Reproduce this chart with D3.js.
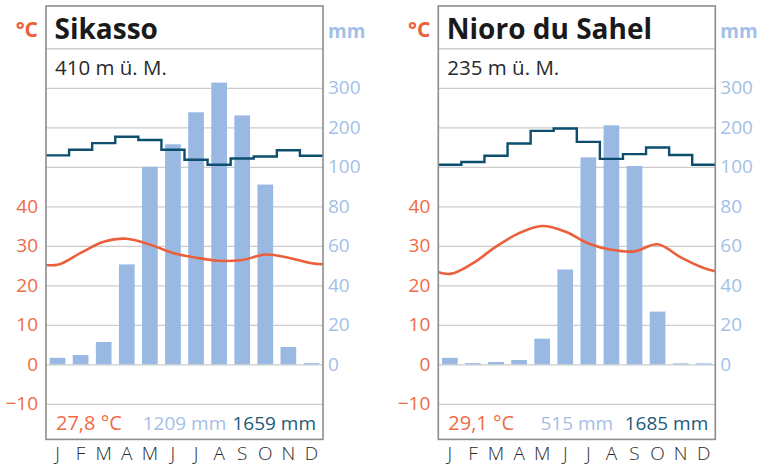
<!DOCTYPE html>
<html>
<head>
<meta charset="utf-8">
<script src="https://cdn.jsdelivr.net/npm/d3@7"></script>
<style>
  body { margin: 0; background: #fff; }
  text { font-family: "Open Sans", sans-serif; }
</style>
</head>
<body>
<svg id="chart" width="761" height="466"></svg>
<script>
//
// Data
//
const months = ['J', 'F', 'M', 'A', 'M', 'J', 'J', 'A', 'S', 'O', 'N', 'D'];
const stations = ['Sikasso', 'Nioro du Sahel'];
const elevations = ['410 m ü. M.', '235 m ü. M.'];
const meanTemps = ['27,8 °C', '29,1 °C'];
const totalPrec = ['1209 mm', '515 mm'];
const totalPet = ['1659 mm', '1685 mm'];

const sikassoTemp = [25.2, 28.2, 31.0, 31.8, 30.3, 28.2, 27.0, 26.2, 26.4, 27.8, 27.0, 25.6];
const sikassoPrec = [3.3, 4.7, 11.3, 50.6, 100, 157, 238, 313, 230, 91, 8.8, 0.6];
const sikassoPet = [129, 143, 160, 176, 168, 143, 118, 105, 121, 126, 142, 128];

const nioroTemp = [22.9, 25.6, 29.8, 33.2, 35.0, 33.6, 30.6, 29.0, 28.6, 30.4, 27.1, 24.4];
const nioroPrec = [3.3, 0.6, 1.2, 2.2, 13, 48, 124, 205, 102, 26.7, 0.5, 0.5];
const nioroPet = [105, 112, 128, 159, 191, 197, 163, 120, 132, 149, 130, 105];

const tempTicks = [-10, 0, 10, 20, 30, 40];
const precTicks = [0, 20, 40, 60, 80, 100, 200, 300];

//
// Configuration
//
const colorTemp = '#ec5f3b';
const colorTempText = '#f06a46';
const colorPrec = '#99b9e3';
const colorPrecText = '#a3bfe8';
const colorPet = '#0d4e6f';
const colorPetText = '#1a5a7a';
const colorGrid = '#cccccc';
const colorFrame = '#8c8c8c';

const frameTop = 6, frameBottom = 439.4, frameW = 277;
const panelX = [46, 438.3];

const svg = d3.select('#chart');

//
// Functions
//
function drawPanel(k, temp, prec, pet) {
  const g = svg.append('g').attr('transform', `translate(${panelX[k]},0)`);

  const yT = d3.scaleLinear().domain([-19, 90.7]).range([frameBottom, frameTop]);
  // precipitation: 20 mm per 10 °C up to 100 mm, then 100 mm per 10 °C
  const yP = d3.scaleLinear().domain([0, 100, 400]).range([yT(0), yT(50), yT(80)]);
  const xm = d3.scaleLinear().domain([0, 12]).range([0, frameW]);
  const xb = d3.scaleBand().domain(d3.range(12)).range([0, frameW])
      .paddingInner(0.32).paddingOuter(0.16);

  const clipId = 'clip' + k;
  g.append('clipPath').attr('id', clipId)
    .append('rect').attr('x', 0).attr('y', frameTop).attr('width', frameW).attr('height', frameBottom - frameTop);

  // grid
  const grid = g.append('g')
      .call(d3.axisLeft(yT).tickValues(d3.range(-10, 81, 10)).tickSize(-frameW).tickFormat(''));
  grid.select('.domain').remove();
  grid.selectAll('line').attr('stroke', colorGrid).attr('stroke-width', 1.3);

  // bars
  g.append('g').selectAll('rect').data(prec).join('rect')
      .attr('x', (d, i) => xb(i))
      .attr('width', xb.bandwidth())
      .attr('y', d => yP(d))
      .attr('height', d => yP(0) - yP(d))
      .attr('fill', colorPrec);

  // evapotranspiration step line
  const petPts = d3.range(13).map(i => [xm(i), yP(pet[Math.min(i, 11)])]);
  g.append('path')
      .attr('d', d3.line().curve(d3.curveStepAfter)(petPts))
      .attr('fill', 'none').attr('stroke', colorPet).attr('stroke-width', 2.4)
      .attr('clip-path', `url(#${clipId})`);

  // temperature curve (wraps Dec -> Jan)
  const tPts = d3.range(-1, 13).map(i => [xm(i + 0.5), yT(temp[(i + 12) % 12])]);
  g.append('path')
      .attr('d', d3.line().curve(d3.curveCatmullRom.alpha(0.5))(tPts))
      .attr('fill', 'none').attr('stroke', colorTemp).attr('stroke-width', 2.6)
      .attr('clip-path', `url(#${clipId})`);

  // frame
  g.append('rect')
      .attr('x', 0).attr('y', frameTop).attr('width', frameW).attr('height', frameBottom - frameTop)
      .attr('fill', 'none').attr('stroke', colorFrame).attr('stroke-width', 1.6);

  // left temperature labels
  const la = g.append('g')
      .call(d3.axisLeft(yT).tickValues(tempTicks).tickSize(0).tickPadding(8));
  la.select('.domain').remove();
  la.selectAll('text').attr('fill', colorTempText).style('font-size', '19px')
      .style('font-family', '"Open Sans", sans-serif');

  // right precipitation labels
  const ra = g.append('g').attr('transform', `translate(${frameW},0)`)
      .call(d3.axisRight(yP).tickValues(precTicks).tickSize(0).tickPadding(5));
  ra.select('.domain').remove();
  ra.selectAll('text').attr('fill', colorPrecText).style('font-size', '19px')
      .style('font-family', '"Open Sans", sans-serif');

  // months
  const ba = g.append('g').attr('transform', `translate(0,${frameBottom})`)
      .call(d3.axisBottom(xb).tickFormat(i => months[i]).tickSize(0).tickPadding(7.5));
  ba.select('.domain').remove();
  ba.selectAll('text').attr('fill', '#2b2b2b').style('font-size', '19px').style('font-weight', 300)
      .style('font-family', '"Open Sans", sans-serif');

  // unit labels
  g.append('text').attr('x', -8).attr('y', 37).attr('text-anchor', 'end')
      .attr('fill', colorTemp).style('font-size', '21px').style('font-weight', 700).text('°C');
  g.append('text').attr('x', frameW + 5).attr('y', 37.5)
      .attr('fill', colorPrecText).style('font-size', '19px').style('font-weight', 700).text('mm');

  // title and elevation
  g.append('text').attr('x', 8.5).attr('y', 38.5)
      .attr('fill', '#1a1a1a').style('font-size', '28px').style('font-weight', 700).text(stations[k]);
  g.append('text').attr('x', 9).attr('y', 74.5)
      .attr('fill', '#2a2a2a').style('font-size', '20.5px').text(elevations[k]);

  // summary
  const sy = 429.5;
  g.append('text').attr('x', 10).attr('y', sy)
      .attr('fill', colorTempText).style('font-size', '20px').text(meanTemps[k]);
  g.append('text').attr('x', frameW / 2).attr('y', sy).attr('text-anchor', 'middle')
      .attr('fill', colorPrecText).style('font-size', '19px').text(totalPrec[k]);
  g.append('text').attr('x', frameW - 7).attr('y', sy).attr('text-anchor', 'end')
      .attr('fill', colorPetText).style('font-size', '19px').text(totalPet[k]);
}

//
// Initialization
//
svg.append('rect').attr('width', 761).attr('height', 466).attr('fill', '#fff');
drawPanel(0, sikassoTemp, sikassoPrec, sikassoPet);
drawPanel(1, nioroTemp, nioroPrec, nioroPet);
</script>
</body>
</html>
